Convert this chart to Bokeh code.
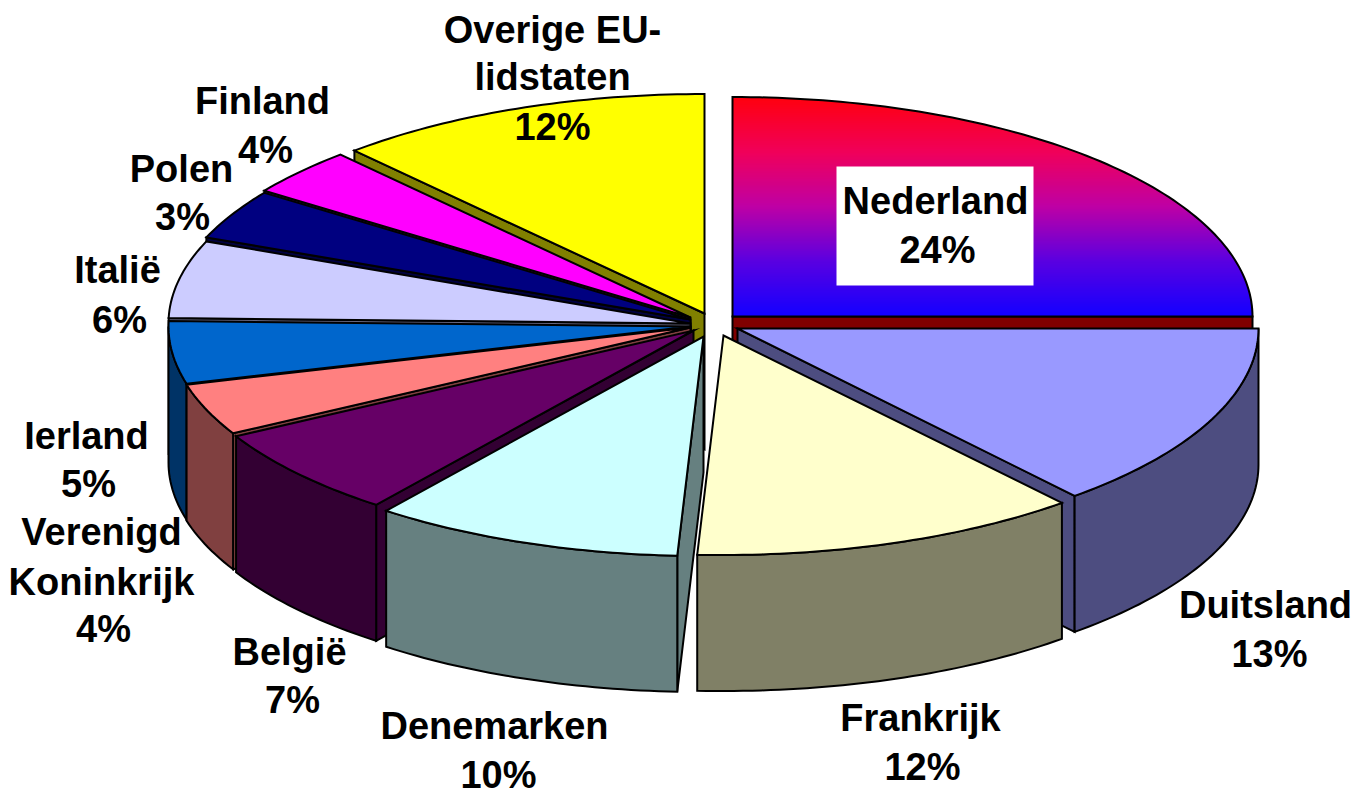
import math
from bokeh.plotting import figure
from bokeh.models import Range1d
from bokeh.core.properties import value
from bokeh.embed import file_html
from bokeh.resources import INLINE

# ---- data (clockwise from twelve o'clock) ----
categories = ["Nederland", "Duitsland", "Frankrijk", "Denemarken", "België",
              "Verenigd Koninkrijk", "Ierland", "Italië", "Polen", "Finland",
              "Overige EU-lidstaten"]
percent_labels = ["24%", "13%", "12%", "10%", "7%", "4%", "5%", "6%", "3%", "4%", "12%"]
# visible share of the tilted pie (perspective widens the nearest slices)
drawn_shares = [25.0, 13.8, 12.0, 9.6, 6.6, 3.8, 4.6, 5.7, 3.7, 3.5, 11.7]

# ---- style / layout ----
top_colors = ["#FF0000", "#9999FF", "#FFFFCC", "#CCFFFF", "#660066", "#FF8080",
              "#0066CC", "#CCCCFF", "#000080", "#FF00FF", "#FFFF00"]
wall_colors = ["#800000", "#4D4D80", "#808066", "#668080", "#330033", "#804040",
               "#003366", "#666680", "#000040", "#800080", "#808000"]
apex = [(732, 316), (737, 328), (723, 335), (703, 336), (693, 330), (690, 327),
        (690, 326), (690, 323), (690, 319), (690, 317), (704, 313)]
radius_x = [520, 521, 523, 522, 522, 522, 522, 522, 522, 522, 522]
paint_order = [10, 0, 9, 8, 7, 6, 5, 4, 3, 1, 2]
gradient_stops = [(0.0, (255, 0, 15)), (0.25, (240, 0, 90)), (0.5, (190, 0, 165)),
                  (0.75, (90, 0, 225)), (1.0, (20, 0, 255))]
RY, DEPTH = 219.5, 136
OUTLINE = 2

label_lines = [["Nederland"], ["Duitsland"], ["Frankrijk"], ["Denemarken"], ["België"],
               ["Verenigd", "Koninkrijk"], ["Ierland"], ["Italië"], ["Polen"], ["Finland"],
               ["Overige EU-", "lidstaten"]]
label_pos = [[(935, 200), (937, 249)], [(1265, 604), (1269, 653)], [(920, 717), (922, 766)],
             [(494, 725), (498, 774)], [(289, 651), (292, 699)],
             [(101, 531), (101, 581), (103, 628)], [(86, 435), (88, 483)],
             [(117, 269), (119, 319)], [(181, 168), (182, 216)], [(262, 100), (265, 149)],
             [(552, 29), (552, 76), (552, 126)]]

p = figure(width=1353, height=790, output_backend="svg", toolbar_location=None,
           x_range=Range1d(0, 1353), y_range=Range1d(790, 0), min_border=0)
p.axis.visible = False
p.grid.visible = False
p.outline_line_color = None
p.background_fill_color = "white"
p.border_fill_color = "white"


def rim(i, deg):
    t = math.radians(deg)
    c = apex[i]
    return c[0] + radius_x[i] * math.sin(t), c[1] - RY * math.cos(t)


def arc(i, a0, a1):
    n = max(2, int(abs(a1 - a0)) + 1)
    return [rim(i, a0 + (a1 - a0) * k / (n - 1)) for k in range(n)]


def clip_y(poly, limit, keep_below):
    out = []
    inside = (lambda q: q[1] >= limit) if keep_below else (lambda q: q[1] <= limit)
    for k, a in enumerate(poly):
        b = poly[(k + 1) % len(poly)]
        if inside(a):
            out.append(a)
        if inside(a) != inside(b):
            s = (limit - a[1]) / (b[1] - a[1])
            out.append((a[0] + s * (b[0] - a[0]), limit))
    return out


def gradient(f):
    for (t0, c0), (t1, c1) in zip(gradient_stops, gradient_stops[1:]):
        if f <= t1:
            s = (f - t0) / (t1 - t0)
            return "#%02X%02X%02X" % tuple(round(u + (v - u) * s) for u, v in zip(c0, c1))
    return "#%02X%02X%02X" % gradient_stops[-1][1]


def draw(poly, fill):
    p.patch([q[0] for q in poly], [q[1] for q in poly], fill_color=fill,
            line_color="black", line_width=OUTLINE, line_join="miter")


# angles of the slices
edges = [0.0]
for s in drawn_shares:
    edges.append(edges[-1] + s * 3.6)
edges[-1] = 360.0

for i in paint_order:
    c, a0, a1 = apex[i], edges[i], edges[i + 1]
    # radial cut faces that look towards the viewer
    for a, normal in ((a0, a0 - 90), (a1, a1 + 90)):
        if math.cos(math.radians(normal)) < -1e-6:
            r = rim(i, a)
            draw([c, r, (r[0], r[1] + DEPTH), (c[0], c[1] + DEPTH)], wall_colors[i])
    # curved outer wall (only the part facing the viewer)
    w0, w1 = max(a0, 90.0), min(a1, 270.0)
    if w1 > w0:
        pts = arc(i, w0, w1)
        draw(pts + [(x, y + DEPTH) for x, y in reversed(pts)], wall_colors[i])
    # top face
    top = [c] + arc(i, a0, a1)
    if i == 0:
        y_top, y_bot = min(q[1] for q in top), max(q[1] for q in top)
        bands = 110
        xs, ys, cols = [], [], []
        for b in range(bands):
            y0 = y_top + (y_bot - y_top) * b / bands
            y1 = y_top + (y_bot - y_top) * (b + 1) / bands + (0.8 if b < bands - 1 else 0)
            band = clip_y(clip_y(top, y0, True), y1, False)
            if len(band) >= 3:
                xs.append([q[0] for q in band])
                ys.append([q[1] for q in band])
                cols.append(gradient(b / (bands - 1)))
        p.patches(xs, ys, fill_color=cols, line_color=None)
        p.patch([q[0] for q in top], [q[1] for q in top], fill_color=None,
                line_color="black", line_width=OUTLINE, line_join="miter")
    else:
        draw(top, top_colors[i])

# white box behind the Nederland label
p.quad(left=[836], right=[1033], top=[166], bottom=[285], fill_color="white", line_color=None)

for lines, pct, pos in zip(label_lines, percent_labels, label_pos):
    rows = lines + [pct]
    p.text([q[0] for q in pos], [q[1] for q in pos], text=rows,
           text_font=value("Liberation Sans"), text_font_style="bold",
           text_font_size="38px", text_color="black",
           text_align="center", text_baseline="middle")

open("out.html", "w").write(file_html(p, INLINE))
